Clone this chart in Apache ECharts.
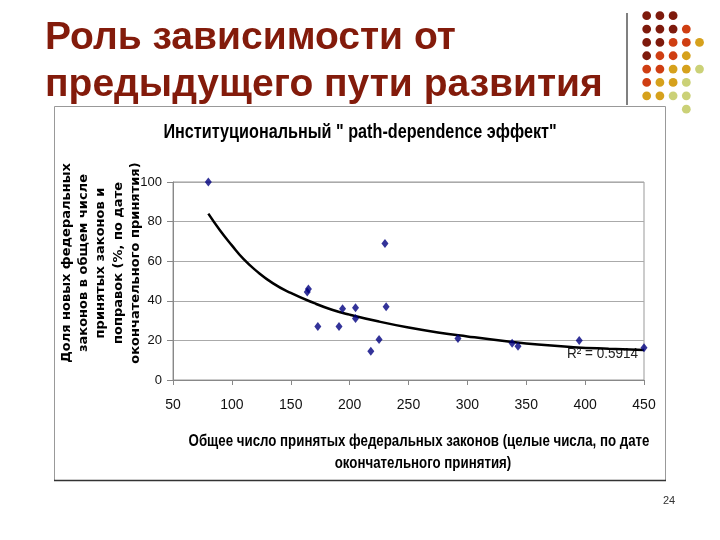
<!DOCTYPE html>
<html>
<head>
<meta charset="utf-8">
<script src="https://cdn.jsdelivr.net/npm/echarts@6/dist/echarts.min.js"></script>
<style>html,body{margin:0;padding:0;background:#fff}#c{width:720px;height:540px}</style>
</head>
<body>
<div id="c"></div>
<script>
// ---- data ----
const lawsTotal = [80, 164, 165, 173, 191, 194, 205, 205, 218, 225, 230, 231, 292, 338, 343, 395, 450];
const newShare  = [100, 44.5, 46, 27, 27, 36, 36.5, 31, 14.5, 20.5, 69, 37, 21, 18.5, 17, 20, 16.3];
// trendline
const trendX = [80, 90, 100, 110, 120, 135, 150, 170, 185, 200, 225, 250, 275, 300, 333, 360, 390, 420, 450];
const trendY = [84, 75.5, 68, 61, 55.5, 48.8, 44, 38.8, 35.5, 33, 29.5, 26.5, 24, 22, 19.6, 17.9, 16.6, 15.8, 15.2];
const xTicks = [50, 100, 150, 200, 250, 300, 350, 400, 450];
const yTicks = [0, 20, 40, 60, 80, 100];

const slideTitle1 = 'Роль зависимости от';
const slideTitle2 = 'предыдущего пути развития';
const chartTitle = 'Институциональный " path-dependence эффект"';
const yName = 'Доля новых федеральных\nзаконов в общем числе\nпринятых законов и\nпоправок (%, по дате\nокончательного принятия)';
const xName1 = 'Общее число принятых федеральных законов (целые числа, по дате';
const xName2 = 'окончательного принятия)';
const r2Text = 'R² = 0.5914';
const pageNo = '24';

// decorative dot pattern (D=dark red, O=orange, G=gold, L=light green)
const dotRows = ['DDD', 'DDDO', 'DDOOG', 'DOOG', 'OOGGL', 'OGGL', 'GGLL', '...L'];
const dotColors = { D: '#7e1a0c', O: '#cf3e12', G: '#d6a11c', L: '#cbd177' };

const sans = '"Liberation Sans", Arial, sans-serif';

const graphics = [];
dotRows.forEach((row, r) => {
  row.split('').forEach((ch, c) => {
    if (dotColors[ch]) {
      graphics.push({ type: 'circle', shape: { cx: 646.7 + c * 13.2, cy: 15.7 + r * 13.35, r: 4.4 }, style: { fill: dotColors[ch] }, silent: true });
    }
  });
});
graphics.push(
  { type: 'line', shape: { x1: 627, y1: 13, x2: 627, y2: 105 }, style: { stroke: '#808080', lineWidth: 2 } },
  { type: 'rect', shape: { x: 54.5, y: 106.5, width: 611, height: 374 }, style: { fill: 'none', stroke: '#999', lineWidth: 1 }, z: -1 },
  { type: 'line', shape: { x1: 54, y1: 480.5, x2: 666, y2: 480.5 }, style: { stroke: '#333', lineWidth: 1.5 } },
  { type: 'text', x: 45, y: 38, style: { text: slideTitle1, font: 'bold 39px ' + sans, fill: '#831b0b', textVerticalAlign: 'middle' } },
  { type: 'text', x: 45, y: 85, style: { text: slideTitle2, font: 'bold 39px ' + sans, fill: '#831b0b', textVerticalAlign: 'middle' } },
  { type: 'text', x: 360, y: 132, scaleX: 0.81, style: { text: chartTitle, font: 'bold 20px ' + sans, fill: '#000', textAlign: 'center', textVerticalAlign: 'middle' } },
  { type: 'text', x: 101, y: 263, rotation: Math.PI / 2, style: { text: yName, font: 'bold 13px "DejaVu Sans", sans-serif', fill: '#000', textAlign: 'center', textVerticalAlign: 'middle', lineHeight: 17.2 } },
  { type: 'text', x: 419, y: 442, scaleX: 0.83, style: { text: xName1, font: 'bold 16px ' + sans, fill: '#000', textAlign: 'center', textVerticalAlign: 'middle' } },
  { type: 'text', x: 423, y: 464, scaleX: 0.83, style: { text: xName2, font: 'bold 16px ' + sans, fill: '#000', textAlign: 'center', textVerticalAlign: 'middle' } },
  { type: 'text', x: 567, y: 354, scaleX: 0.9, style: { text: r2Text, font: '15px ' + sans, fill: '#222', textVerticalAlign: 'middle' }, z: 1 },
  { type: 'text', x: 669, y: 501, style: { text: pageNo, font: '11px ' + sans, fill: '#333', textAlign: 'center', textVerticalAlign: 'middle' } }
);

const chart = echarts.init(document.getElementById('c'), null, { renderer: 'canvas' });
chart.setOption({
  animation: false,
  backgroundColor: '#fff',
  grid: { left: 173, right: 76, top: 182, bottom: 160, show: true, borderColor: '#999', borderWidth: 1, backgroundColor: 'transparent' },
  xAxis: {
    type: 'value', min: xTicks[0], max: xTicks[xTicks.length - 1], interval: 50,
    axisLine: { show: true, lineStyle: { color: '#888', width: 1 } },
    axisTick: { show: true, length: 5, lineStyle: { color: '#888' } },
    splitLine: { show: false },
    axisLabel: { margin: 18, color: '#111', fontSize: 14, fontFamily: sans }
  },
  yAxis: {
    type: 'value', min: yTicks[0], max: yTicks[yTicks.length - 1], interval: 20,
    axisLine: { show: true, lineStyle: { color: '#888', width: 1 } },
    axisTick: { show: true, length: 6, lineStyle: { color: '#888' } },
    splitLine: { show: true, lineStyle: { color: '#aaa', width: 1 } },
    axisLabel: { margin: 11, color: '#111', fontSize: 13, fontFamily: sans }
  },
  series: [
    {
      type: 'line', data: trendX.map((x, i) => [x, trendY[i]]), smooth: true, showSymbol: false, symbol: 'none',
      lineStyle: { color: '#000', width: 2.5 }, z: 2, silent: true
    },
    {
      type: 'scatter', data: lawsTotal.map((x, i) => [x, newShare[i]]), symbol: 'diamond', symbolSize: [7, 9],
      itemStyle: { color: '#000080' }, z: 3
    }
  ],
  graphic: graphics
});
</script>
</body>
</html>
